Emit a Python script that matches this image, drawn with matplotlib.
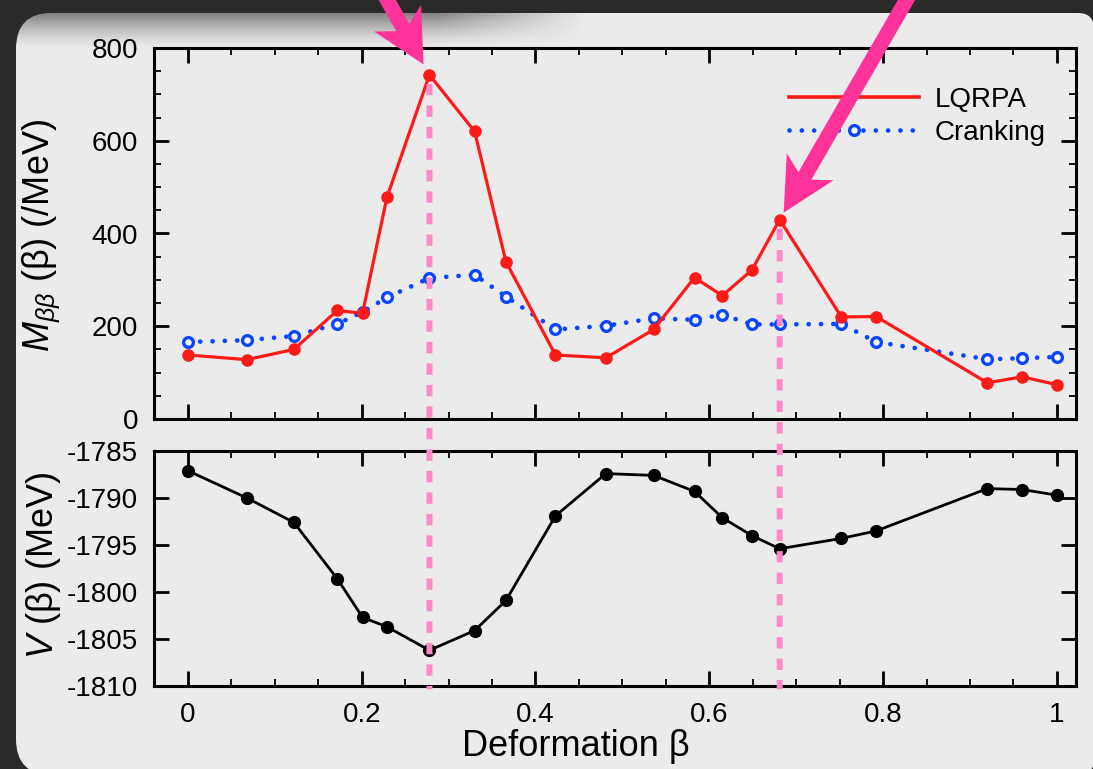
import matplotlib
matplotlib.use("Agg")
import matplotlib.pyplot as plt
import numpy as np
from matplotlib.patches import FancyBboxPatch, FancyArrow, ConnectionPatch
from matplotlib.lines import Line2D
from matplotlib.ticker import MultipleLocator, FixedLocator, FixedFormatter

# ---------------- data ----------------
beta = [0.0, 0.068, 0.122, 0.172, 0.201, 0.229, 0.278, 0.330, 0.366, 0.423, 0.481,
        0.536, 0.583, 0.615, 0.649, 0.681, 0.752, 0.792, 0.920, 0.960, 1.0]
m_lqrpa = [138, 128, 150, 234, 228, 478, 742, 620, 339, 138, 132,
           193, 305, 266, 321, 430, 220, 221, 78, 91, 74]
m_cranking = [166, 170, 179, 205, 231, 262, 304, 311, 264, 193, 201,
              217, 214, 225, 204, 204, 205, 166, 129, 131, 134]
v_pot = [-1787.1, -1790.0, -1792.6, -1798.6, -1802.7, -1803.7, -1806.2, -1804.1, -1800.9,
         -1791.9, -1787.4, -1787.6, -1789.3, -1792.1, -1794.0, -1795.4, -1794.3, -1793.5,
         -1789.0, -1789.1, -1789.7]
highlight_beta = [0.278, 0.681]
x_ticks = [0, 0.2, 0.4, 0.6, 0.8, 1.0]
x_tick_labels = ["0", "0.2", "0.4", "0.6", "0.8", "1"]
m_ticks = [0, 200, 400, 600, 800]
v_ticks = [-1810, -1805, -1800, -1795, -1790, -1785]
series_labels = ["LQRPA", "Cranking"]

# ---------------- style ----------------
plt.rcParams["font.family"] = ["Liberation Sans", "DejaVu Sans"]
plt.rcParams["mathtext.fontset"] = "custom"
plt.rcParams["mathtext.rm"] = "Liberation Sans"
plt.rcParams["mathtext.it"] = "Liberation Sans:italic"
plt.rcParams["axes.unicode_minus"] = False

W, H = 1093, 769
fig = plt.figure(figsize=(W / 100, H / 100), dpi=100, facecolor="#2a2a2a")

# background panel
bg = fig.add_axes([0, 0, 1, 1], zorder=-10)
bg.set_xlim(0, W)
bg.set_ylim(0, H)
bg.axis("off")
panel_col = "#ebebeb"
p1 = FancyBboxPatch((16, -6), 800, H - 13 + 6, boxstyle="round,pad=0,rounding_size=36",
                    fc=panel_col, ec="none")
p2 = FancyBboxPatch((400, -6), W + 1 - 400, H - 13 + 6, boxstyle="round,pad=0,rounding_size=16",
                    fc=panel_col, ec="none")
bg.add_patch(p1)
bg.add_patch(p2)
# soft shadow at the top-left of the panel
ny, nx = 40, 600
yy = np.linspace(0, 1, ny)[:, None]      # 0 top -> 1 bottom
xx = np.linspace(0, 1, nx)[None, :]
alpha_v = 0.45 * (1 - yy) ** 1.3
alpha_h = np.clip((0.95 - xx) / 0.25, 0, 1)
rgba = np.zeros((ny, nx, 4))
rgba[..., 3] = alpha_v * alpha_h
im = bg.imshow(rgba, extent=(16, 616, H - 48, H - 13), aspect="auto", zorder=2)
im.set_clip_path(p1)

ax_left = 154 / W
ax_w = (1076 - 154) / W
ax1 = fig.add_axes([ax_left, 1 - 419 / H, ax_w, (419 - 48) / H])
ax2 = fig.add_axes([ax_left, 1 - 686 / H, ax_w, (686 - 451) / H])
for ax in (ax1, ax2):
    ax.set_facecolor("none")
    for s in ax.spines.values():
        s.set_linewidth(2.2)
    ax.tick_params(which="both", direction="in", top=True, right=True,
                   labelsize=20, pad=11.5)
    ax.tick_params(which="major", length=11, width=2)
    ax.tick_params(which="minor", length=5, width=1.3)
    ax.set_xlim(-0.039, 1.022)
    ax.xaxis.set_major_locator(FixedLocator(x_ticks))
    ax.xaxis.set_minor_locator(MultipleLocator(0.05))

red = "#ff1a1a"
blue = "#0a46ff"
dot_style = (0, (0.01, 2.6))

# top panel
ax1.plot(beta, m_lqrpa, color=red, lw=2.3, marker="o", ms=8, mec=red, mfc=red, zorder=3)
ax1.plot(beta, m_cranking, color=blue, lw=3.4, linestyle=dot_style,
         dash_capstyle="round", marker="o", ms=7, mfc="white", mec=blue, mew=2.4, zorder=2)
ax1.set_ylim(0, 800)
ax1.yaxis.set_major_locator(FixedLocator(m_ticks))
ax1.yaxis.set_minor_locator(MultipleLocator(50))
ax1.tick_params(labelbottom=False)
ax1.set_ylabel(r"$M_{\beta\beta}$ (β) (/MeV)", fontsize=26)
ax1.yaxis.set_label_coords(-0.099, 0.496)

h_lq = Line2D([], [], color=red, lw=2.6)
h_cr = Line2D([], [], color=blue, lw=3.4, linestyle=dot_style, dash_capstyle="round",
              marker="o", ms=7, mfc="white", mec=blue, mew=2.4)
ax1.legend([h_lq, h_cr], series_labels, loc="upper right", bbox_to_anchor=(0.967, 0.895),
           frameon=False, fontsize=20, handlelength=4.7, handletextpad=0.55,
           labelspacing=0.25, borderpad=0, borderaxespad=0, numpoints=1)

# bottom panel
ax2.plot(beta, v_pot, color="black", lw=2.0, marker="o", ms=8.5, zorder=3)
ax2.set_ylim(-1810, -1785)
ax2.yaxis.set_major_locator(FixedLocator(v_ticks))
ax2.xaxis.set_major_formatter(FixedFormatter(x_tick_labels))
ax2.set_ylabel(r"$V$ (β) (MeV)", fontsize=26)
ax2.yaxis.set_label_coords(-0.099, 0.513)
ax2.set_xlabel("Deformation β", fontsize=26)
ax2.xaxis.set_label_coords(0.458, -0.183)

# pink dashed guide lines
pink = "#ff88c8"
for b in highlight_beta:
    i = beta.index(b)
    cp = ConnectionPatch(xyA=(b, m_lqrpa[i]), coordsA="data", axesA=ax1,
                         xyB=(b, -0.014), coordsB=ax2.get_xaxis_transform(),
                         arrowstyle="-", color=pink, lw=4.3,
                         linestyle=(0, (1.9, 1.7)), shrinkA=6.5, shrinkB=0,
                         capstyle="butt")
    fig.add_artist(cp)

# pink arrows pointing at the two peaks
ov = fig.add_axes([0, 0, 1, 1], zorder=20)
ov.set_xlim(0, W)
ov.set_ylim(0, H)
ov.axis("off")
ov.set_facecolor("none")
arrow_dirs = [(0.49, -0.87), (-0.5, -0.866)]
tip_back = [12, 8]
for b, d, tb in zip(highlight_beta, arrow_dirs, tip_back):
    i = beta.index(b)
    cx, cy = ax1.transData.transform((b, m_lqrpa[i]))
    d = np.array(d) / np.hypot(*d)
    tip = np.array([cx, cy]) - tb * d
    tail = tip - 330 * d
    ar = FancyArrow(tail[0], tail[1], *(tip - tail), width=15, head_width=54,
                    head_length=53, overhang=0.2, length_includes_head=True,
                    color="#ff3399", lw=0, clip_on=False)
    ov.add_patch(ar)

fig.savefig("out.png", dpi=100, facecolor=fig.get_facecolor())
